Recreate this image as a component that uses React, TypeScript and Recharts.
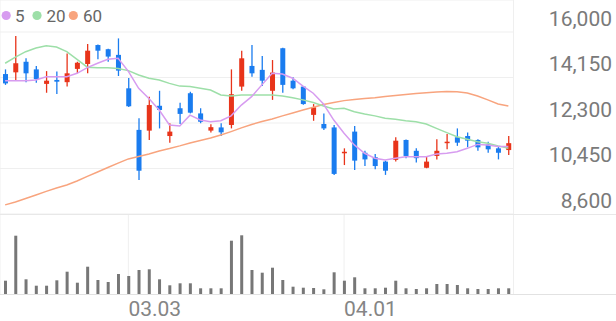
import React from 'react';
import { ComposedChart, Bar, Line, XAxis, YAxis, CartesianGrid } from 'recharts';

const dates = ['02.10','02.15','02.16','02.17','02.18','02.19','02.22','02.23','02.24','02.25','02.26','03.02','03.03','03.04','03.05','03.08','03.09','03.10','03.11','03.12','03.15','03.16','03.17','03.18','03.19','03.22','03.23','03.24','03.25','03.26','03.29','03.30','03.31','04.01','04.02','04.05','04.06','04.07','04.08','04.09','04.12','04.13','04.14','04.15','04.16','04.19','04.20','04.21','04.22','04.23'];
const opens = [14290,14360,14790,14480,13890,14050,13960,14500,14700,15470,15300,15070,13710,12020,11990,13000,11770,12900,13510,12690,11990,12120,12220,13780,14620,14460,13610,15340,14020,13780,12630,12260,12120,11070,11950,11090,10910,10730,10800,11610,11170,10480,10960,11500,11720,11770,11610,11430,11270,11200];
const closes = [13910,14730,14320,14080,14020,13980,14320,14750,15240,15240,15000,14430,12980,10360,13030,12830,11950,12670,12720,12350,12130,11920,13470,14930,14320,14020,14350,13850,13710,13070,12940,12080,10230,11130,10770,10820,10550,10360,11580,10960,10870,10730,11170,11540,11500,11580,11310,11230,11090,11480];
const highs = [14480,15840,14930,14620,14410,14390,15130,14790,15510,15490,15320,15740,14130,12490,13370,13610,12290,13120,13570,12900,12250,12290,14480,15240,15470,15020,14860,15360,14160,13800,13070,12690,12220,11270,12180,11170,11040,10770,11720,11630,11270,10930,11640,11850,12080,11910,11640,11540,11340,11770];
const lows = [13850,14050,13960,13940,13530,13480,13780,14320,14320,14890,14790,14210,12950,9980,11610,12080,11500,12260,12690,12290,11910,11770,12080,13610,14180,13800,13240,13530,13670,13040,12390,12020,10190,10590,10390,10550,10420,10190,10730,10870,10690,10460,10820,11230,11370,11310,11170,11090,10820,11000];
const volumes = [133000,583000,147000,83000,83000,137000,223000,113000,273000,140000,120000,200000,180000,240000,247000,147000,87000,107000,107000,57000,57000,57000,533000,587000,240000,213000,263000,140000,73000,63000,60000,47000,217000,133000,167000,57000,57000,63000,133000,57000,50000,57000,100000,100000,90000,57000,50000,50000,57000,57000];
const ma5 = [14020,14020,14020,14050,14180,14180,14180,14320,14550,14730,14890,14930,14400,13710,13300,12830,12220,12180,12620,12420,12350,12390,12590,13030,13370,13850,14320,14290,14120,13800,13510,13070,12420,11880,11410,11070,10870,10800,10870,10930,10930,10930,11040,11070,11130,11270,11430,11410,11340,11340];
const ma20 = [14730,14980,15200,15350,15440,15390,15200,14890,14570,14550,14550,14520,14430,14250,14120,14050,13910,13800,13780,13710,13640,13440,13400,13440,13440,13440,13440,13400,13330,13240,13130,12990,12870,12900,12760,12670,12590,12490,12450,12390,12350,12260,12080,11910,11740,11640,11540,11480,11370,11270];
const ma60 = [8970,9090,9230,9370,9520,9660,9780,9940,10130,10310,10490,10670,10840,10940,11040,11160,11260,11370,11490,11590,11690,11810,11950,12100,12240,12360,12460,12590,12710,12830,12940,13050,13130,13210,13260,13300,13330,13380,13420,13460,13500,13530,13560,13580,13570,13520,13400,13240,13070,12990];

const priceTicks = [8600, 10450, 12300, 14150, 16000];
const priceDomain = [8600, 17301];
const volumeDomain = [0, 800000];
const xTickLabels = ['03.03', '04.01'];
const legendLabels = ['5', '20', '60'];
const legendColors = ['#d79cf0', '#9ddfa8', '#f8a47e'];

const UP = '#e8341a';
const DOWN = '#1a7cef';
const FONT = 'Roboto, "Noto Sans", sans-serif';

const data = dates.map((d, i) => ({
  date: d,
  open: opens[i],
  close: closes[i],
  high: highs[i],
  low: lows[i],
  volume: volumes[i],
  ma5: ma5[i],
  ma20: ma20[i],
  ma60: ma60[i],
}));

function Candle(props: any) {
  const { x, y, width, height, payload } = props;
  if (!payload || x == null || y == null) return null;
  const top = Math.min(y, y + height);
  const h = Math.abs(height);
  const range = payload.high - payload.low;
  const k = range > 0 ? h / range : 0;
  const up = payload.close >= payload.open;
  const color = up ? UP : DOWN;
  const bTop = top + (payload.high - Math.max(payload.open, payload.close)) * k;
  const bBot = top + (payload.high - Math.min(payload.open, payload.close)) * k;
  const cx = x + width / 2;
  return (
    <g>
      <line x1={cx} x2={cx} y1={top} y2={top + h} stroke={color} strokeWidth={1.3} />
      <rect x={x} y={bTop} width={width} height={Math.max(1.5, bBot - bTop)} fill={color} />
    </g>
  );
}

function PriceTick(props: any) {
  const { y, payload } = props;
  return (
    <text x={612} y={y - 6} textAnchor="end" fill="#7a7a7a" fontSize={21} fontFamily={FONT}>
      {Number(payload.value).toLocaleString('en-US')}
    </text>
  );
}

function DateTick(props: any) {
  const { x, y, payload } = props;
  return (
    <text x={x} y={y + 21.7} textAnchor="start" fill="#858585" fontSize={21} fontFamily={FONT}>
      {payload.value}
    </text>
  );
}

export default function App() {
  return (
    <div style={{ position: 'absolute', left: 0, top: 0, width: 616, height: 321, background: '#fff', overflow: 'hidden' }}>
      <div style={{ position: 'absolute', left: 0, top: 0 }}>
        <ComposedChart width={616} height={216} data={data} margin={{ top: 0, right: 0, bottom: 2, left: 0 }}>
          <CartesianGrid yAxisId="p" stroke="#efefef" strokeWidth={1} horizontal={true} vertical={true} />
          <XAxis dataKey="date" ticks={xTickLabels} interval={0} height={0} tick={false} axisLine={false} tickLine={false} />
          <YAxis yAxisId="p" orientation="right" width={102.5} domain={priceDomain} ticks={priceTicks} interval={0}
            allowDataOverflow axisLine={false} tickLine={false} tick={<PriceTick />} />
          <Line yAxisId="p" dataKey="ma60" stroke={legendColors[2]} strokeWidth={1.5} dot={false} activeDot={false} isAnimationActive={false} />
          <Line yAxisId="p" dataKey="ma20" stroke={legendColors[1]} strokeWidth={1.5} dot={false} activeDot={false} isAnimationActive={false} />
          <Line yAxisId="p" dataKey="ma5" stroke={legendColors[0]} strokeWidth={1.5} dot={false} activeDot={false} isAnimationActive={false} />
          <Bar yAxisId="p" dataKey={(d: any) => [d.low, d.high]} barSize={5} isAnimationActive={false}
            shape={(p: any) => <Candle {...p} />} />
        </ComposedChart>
      </div>
      <div style={{ position: 'absolute', left: 0, top: 214 }}>
        <ComposedChart width={616} height={107} data={data} margin={{ top: 0, right: 102.5, bottom: 0, left: 0 }}>
          <CartesianGrid yAxisId="v" stroke="#efefef" horizontal={false} vertical={true} />
          <XAxis dataKey="date" ticks={xTickLabels} interval={0} height={27} axisLine={false} tickLine={false}
            tickSize={0} tickMargin={0} tick={<DateTick />} />
          <YAxis yAxisId="v" hide domain={volumeDomain} />
          <Bar yAxisId="v" dataKey="volume" barSize={3} fill="#777777" isAnimationActive={false} />
        </ComposedChart>
      </div>
      <div style={{ position: 'absolute', left: 0, top: 214, width: 616, height: 1, background: '#e8e8e8' }} />
      <div style={{ position: 'absolute', left: 0, top: 294, width: 616, height: 1, background: '#e2e2e2' }} />
      <svg style={{ position: 'absolute', left: 0, top: 0 }} width={120} height={30}>
        {legendLabels.map((lab, i) => {
          const cxs = [6.2, 37, 73.3];
          const txs = [15, 46.5, 83];
          return (
            <g key={lab}>
              <circle cx={cxs[i]} cy={15.5} r={4.6} fill={legendColors[i]} />
              <text x={txs[i]} y={21.7} fontSize={17} fill="#666" fontFamily={FONT}>{lab}</text>
            </g>
          );
        })}
      </svg>
    </div>
  );
}
